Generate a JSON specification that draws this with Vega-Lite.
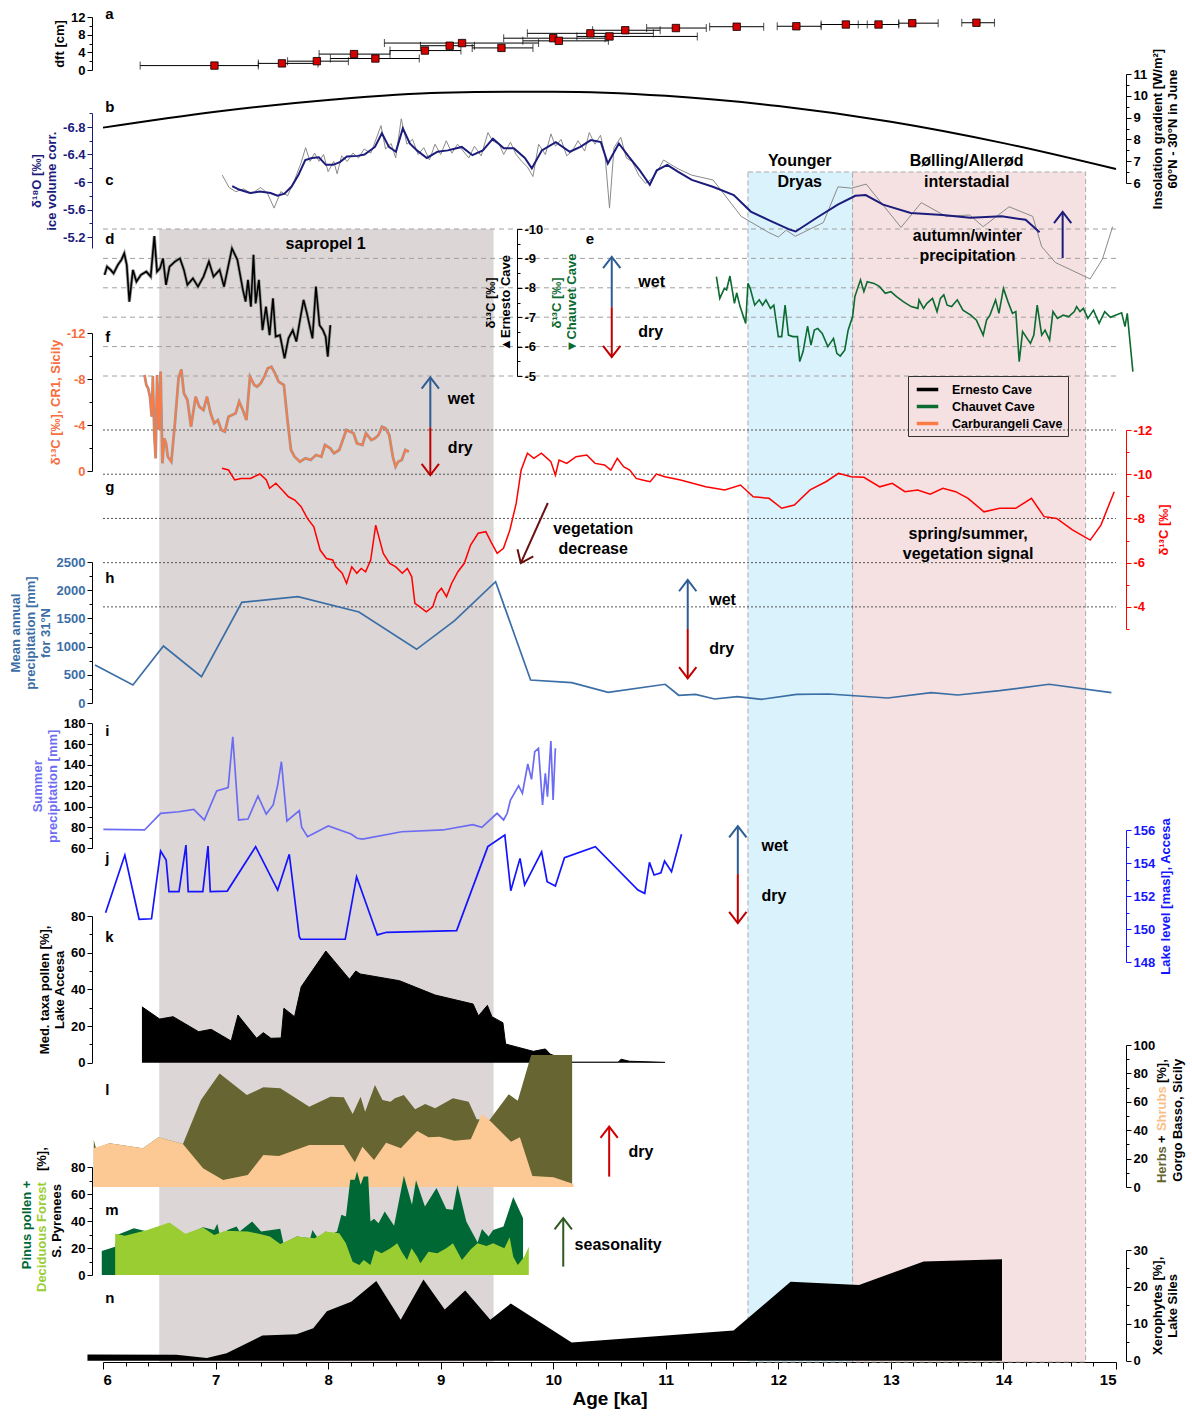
{
  "$schema": "https://vega.github.io/schema/vega-lite/v6.json",
  "width": 1013,
  "height": 1362,
  "autosize": {"type": "none"},
  "padding": {"left": 103, "top": 0, "right": 76, "bottom": 56},
  "background": "white",
  "config": {
    "view": {"stroke": null},
    "locale": {"number": {"decimal": ".", "thousands": "", "grouping": [3], "currency": ["", ""], "minus": "-"}},
    "axis": {"labelFont": "Liberation Sans", "labelFontWeight": "bold", "labelFontSize": 13, "labelColor": "#000", "titleFont": "Liberation Sans", "titleFontWeight": "bold", "titleFontSize": 13, "titleColor": "#000", "domainColor": "#000", "tickColor": "#000", "grid": false, "labelPadding": 2, "titlePadding": 4, "format": "~f"},
    "text": {"font": "Liberation Sans", "fontWeight": "bold"}
  },
  "encoding": {
    "x": {"field": "age", "type": "quantitative", "scale": {"domain": [6, 15], "nice": false, "zero": false},
      "axis": {"orient": "bottom", "values": [6,6.2,6.4,6.6,6.8,7,7.2,7.4,7.6,7.8,8,8.2,8.4,8.6,8.8,9,9.2,9.4,9.6,9.8,10,10.2,10.4,10.6,10.8,11,11.2,11.4,11.6,11.8,12,12.2,12.4,12.6,12.8,13,13.2,13.4,13.6,13.8,14,14.2,14.4,14.6,14.8,15],
        "labelExpr": "datum.value % 1 === 0 ? datum.label : ''",
        "tickSize": {"condition": {"test": "datum.value % 1 === 0", "value": 7}, "value": 4},
        "labelFontSize": 15, "labelPadding": 3, "title": "Age [ka]", "titleFontSize": 19, "titlePadding": 2}}
  },
  "resolve": {"scale": {"y": "independent"}, "axis": {"y": "independent"}},
  "layer": [
    {
      "data": {"values": [
        {"name": "sapropel 1", "age": 6.5, "age2": 9.47, "top": -10},
        {"name": "Younger Dryas", "age": 11.73, "age2": 12.66, "top": -11.94},
        {"name": "Bølling/Allerød", "age": 12.66, "age2": 14.73, "top": -11.94}
      ]},
      "mark": {"type": "rect", "stroke": "#aaaaaa", "strokeDash": [5, 3], "strokeWidth": 1},
      "encoding": {
        "x2": {"field": "age2"},
        "y": {"field": "top", "type": "quantitative", "scale": {"domain": [-10, -5], "range": [229, 376], "nice": false, "zero": false}, "axis": null},
        "y2": {"value": "height"},
        "fill": {"field": "name", "type": "nominal", "scale": {"domain": ["sapropel 1", "Younger Dryas", "Bølling/Allerød"], "range": ["#ddd6d6", "#daf2fb", "#f5e1e1"]}, "legend": null},
        "strokeOpacity": {"condition": {"test": "datum.name === 'sapropel 1'", "value": 0}, "value": 1}
      }
    },
    {
      "data": {"values": [
        {"age": 6, "age2": 15, "v": -10}, {"age": 6, "age2": 15, "v": -9}, {"age": 6, "age2": 15, "v": -8},
        {"age": 6, "age2": 15, "v": -7}, {"age": 6, "age2": 15, "v": -6}, {"age": 6, "age2": 15, "v": -5}
      ]},
      "mark": {"type": "rule", "color": "#a0a0a0", "strokeDash": [5, 4], "strokeWidth": 1},
      "encoding": {
        "x2": {"field": "age2"},
        "y": {"field": "v", "type": "quantitative", "scale": {"domain": [-10, -5], "range": [229, 376], "nice": false, "zero": false}, "axis": null}
      }
    },
    {
      "data": {"values": [
        {"age": 6, "age2": 15, "v": -12}, {"age": 6, "age2": 15, "v": -10}, {"age": 6, "age2": 15, "v": -8},
        {"age": 6, "age2": 15, "v": -6}, {"age": 6, "age2": 15, "v": -4}
      ]},
      "mark": {"type": "rule", "color": "#555555", "strokeDash": [2, 2], "strokeWidth": 1},
      "encoding": {
        "x2": {"field": "age2"},
        "y": {"field": "v", "type": "quantitative", "scale": {"domain": [-12, -3], "range": [430, 629], "nice": false, "zero": false}, "axis": null}
      }
    },
    {
      "encoding": {"y": {"field": "v", "type": "quantitative", "scale": {"domain": [0, 12], "range": [70, 17], "nice": false, "zero": false},
        "axis": {"orient": "left", "offset": 11, "values": [0, 2, 4, 6, 8, 10, 12], "labelExpr": "datum.value % 4 === 0 ? datum.label : ''", "tickSize": {"condition": {"test": "datum.value % 4 === 0", "value": 5}, "value": 3}, "title": "dft [cm]"}}},
      "layer": [
        {"data": {"name": "dft_range", "values": [
          {"age": 6.33, "age2": 7.38, "v": 1.0}, {"age": 7.38, "age2": 7.91, "v": 1.5}, {"age": 7.64, "age2": 8.18, "v": 2.0},
          {"age": 7.92, "age2": 8.55, "v": 3.6}, {"age": 8.02, "age2": 8.81, "v": 2.6}, {"age": 8.55, "age2": 9.18, "v": 4.4},
          {"age": 8.82, "age2": 9.30, "v": 5.5}, {"age": 8.50, "age2": 9.87, "v": 6.1}, {"age": 9.28, "age2": 9.82, "v": 5.0},
          {"age": 9.56, "age2": 10.46, "v": 7.2}, {"age": 9.73, "age2": 10.49, "v": 6.6}, {"age": 9.77, "age2": 10.89, "v": 8.3},
          {"age": 10.21, "age2": 11.28, "v": 7.6}, {"age": 10.35, "age2": 10.95, "v": 9.0}, {"age": 10.83, "age2": 11.36, "v": 9.5},
          {"age": 11.39, "age2": 11.87, "v": 9.8}, {"age": 11.99, "age2": 12.38, "v": 9.9}, {"age": 12.38, "age2": 12.79, "v": 10.3},
          {"age": 12.71, "age2": 13.07, "v": 10.3}, {"age": 13.07, "age2": 13.42, "v": 10.6}, {"age": 13.63, "age2": 13.92, "v": 10.7}
        ]}, "mark": {"type": "rule", "color": "#000", "strokeWidth": 1}, "encoding": {"x2": {"field": "age2"}}},
        {"data": {"name": "dft_range"}, "transform": [{"fold": ["age", "age2"], "as": ["end", "age"]}],
          "mark": {"type": "tick", "orient": "vertical", "color": "#000", "thickness": 1, "size": 8}, "encoding": {}},
        {"data": {"values": [
          {"age": 6.99, "v": 1.0}, {"age": 7.59, "v": 1.5}, {"age": 7.90, "v": 2.0}, {"age": 8.23, "v": 3.6}, {"age": 8.42, "v": 2.6},
          {"age": 8.86, "v": 4.4}, {"age": 9.08, "v": 5.5}, {"age": 9.19, "v": 6.1}, {"age": 9.54, "v": 5.0}, {"age": 10.00, "v": 7.2},
          {"age": 10.05, "v": 6.6}, {"age": 10.33, "v": 8.3}, {"age": 10.50, "v": 7.6}, {"age": 10.64, "v": 9.0}, {"age": 11.09, "v": 9.5},
          {"age": 11.63, "v": 9.8}, {"age": 12.16, "v": 9.9}, {"age": 12.60, "v": 10.3}, {"age": 12.89, "v": 10.3}, {"age": 13.19, "v": 10.6},
          {"age": 13.76, "v": 10.7}
        ]}, "mark": {"type": "point", "shape": "square", "size": 55, "filled": true, "color": "#d40000", "stroke": "#000", "strokeWidth": 0.8, "opacity": 1}, "encoding": {}},
        {"data": {"values": [{"age": 6.02, "v": 12.67, "label": "a"}]},
          "mark": {"type": "text", "align": "left", "baseline": "middle", "fontSize": 15, "color": "#000"},
          "encoding": {"text": {"field": "label"}}}
      ]
    },
    {
      "encoding": {"y": {"field": "v", "type": "quantitative", "scale": {"domain": [6, 11], "range": [183, 74], "nice": false, "zero": false},
        "axis": {"orient": "right", "offset": 10, "values": [6, 6.5, 7, 7.5, 8, 8.5, 9, 9.5, 10, 10.5, 11], "labelExpr": "datum.value % 1 === 0 ? datum.label : ''", "tickSize": {"condition": {"test": "datum.value % 1 === 0", "value": 5}, "value": 3}, "title": ["Insolation gradient [W/m²]", "60°N - 30°N in June"], "titleAngle": 270, "titleBaseline": "middle", "titleX": 31}}},
      "layer": [
        {"data": {"values": [
          {"age": 6, "v": 8.54}, {"age": 7, "v": 9.27}, {"age": 8, "v": 9.81}, {"age": 9, "v": 10.14}, {"age": 10, "v": 10.19},
          {"age": 11, "v": 10.0}, {"age": 12, "v": 9.53}, {"age": 13, "v": 8.81}, {"age": 14, "v": 7.83}, {"age": 15, "v": 6.64}
        ]}, "mark": {"type": "line", "color": "#000", "strokeWidth": 2, "interpolate": "monotone"}, "encoding": {}},
        {"data": {"values": [{"age": 6.02, "v": 9.49, "label": "b"}]},
          "mark": {"type": "text", "align": "left", "baseline": "middle", "fontSize": 15, "color": "#000"},
          "encoding": {"text": {"field": "label"}}}
      ]
    },
    {
      "encoding": {"y": {"field": "v", "type": "quantitative", "scale": {"domain": [-7, -5.04], "range": [113.25, 248], "nice": false, "zero": false},
        "axis": {"orient": "left", "offset": 11, "values": [-7, -6.8, -6.6, -6.4, -6.2, -6, -5.8, -5.6, -5.4, -5.2], "labelExpr": "abs(round(datum.value * 10)) % 4 === 0 ? datum.label : ''", "tickSize": {"condition": {"test": "abs(round(datum.value * 10)) % 4 === 0", "value": 5}, "value": 3}, "title": ["δ¹⁸O [‰]", "ice volume corr."], "labelColor": "#1c1c7c", "titleColor": "#1c1c7c", "domainColor": "#1c1c7c", "tickColor": "#1c1c7c"}}},
      "layer": [
        {"data": {"values": [
          {"age": 7.06, "v": -6.10}, {"age": 7.12, "v": -5.92}, {"age": 7.18, "v": -5.86}, {"age": 7.25, "v": -5.90}, {"age": 7.32, "v": -5.83},
          {"age": 7.40, "v": -5.92}, {"age": 7.46, "v": -5.84}, {"age": 7.52, "v": -5.62}, {"age": 7.58, "v": -5.86}, {"age": 7.64, "v": -5.80},
          {"age": 7.70, "v": -6.02}, {"age": 7.76, "v": -6.28}, {"age": 7.80, "v": -6.50}, {"age": 7.84, "v": -6.30}, {"age": 7.88, "v": -6.42},
          {"age": 7.92, "v": -6.30}, {"age": 7.96, "v": -6.40}, {"age": 8.00, "v": -6.15}, {"age": 8.05, "v": -6.30}, {"age": 8.08, "v": -6.12},
          {"age": 8.12, "v": -6.38}, {"age": 8.17, "v": -6.30}, {"age": 8.22, "v": -6.42}, {"age": 8.27, "v": -6.35}, {"age": 8.32, "v": -6.48},
          {"age": 8.38, "v": -6.42}, {"age": 8.43, "v": -6.64}, {"age": 8.47, "v": -6.82}, {"age": 8.51, "v": -6.48}, {"age": 8.56, "v": -6.56},
          {"age": 8.60, "v": -6.35}, {"age": 8.65, "v": -6.92}, {"age": 8.70, "v": -6.55}, {"age": 8.75, "v": -6.62}, {"age": 8.80, "v": -6.40},
          {"age": 8.85, "v": -6.50}, {"age": 8.90, "v": -6.32}, {"age": 8.95, "v": -6.55}, {"age": 9.00, "v": -6.40}, {"age": 9.05, "v": -6.60},
          {"age": 9.10, "v": -6.42}, {"age": 9.15, "v": -6.55}, {"age": 9.20, "v": -6.45}, {"age": 9.25, "v": -6.35}, {"age": 9.30, "v": -6.52},
          {"age": 9.36, "v": -6.38}, {"age": 9.42, "v": -6.72}, {"age": 9.46, "v": -6.60}, {"age": 9.52, "v": -6.55}, {"age": 9.56, "v": -6.40},
          {"age": 9.62, "v": -6.58}, {"age": 9.67, "v": -6.40}, {"age": 9.72, "v": -6.30}, {"age": 9.77, "v": -6.22}, {"age": 9.82, "v": -6.08},
          {"age": 9.87, "v": -6.55}, {"age": 9.93, "v": -6.40}, {"age": 9.98, "v": -6.70}, {"age": 10.02, "v": -6.52}, {"age": 10.07, "v": -6.62},
          {"age": 10.12, "v": -6.38}, {"age": 10.17, "v": -6.45}, {"age": 10.22, "v": -6.60}, {"age": 10.28, "v": -6.45}, {"age": 10.32, "v": -6.72},
          {"age": 10.37, "v": -6.55}, {"age": 10.42, "v": -6.68}, {"age": 10.46, "v": -6.40}, {"age": 10.50, "v": -5.62}, {"age": 10.54, "v": -6.50},
          {"age": 10.60, "v": -6.65}, {"age": 10.65, "v": -6.35}, {"age": 10.70, "v": -6.30}, {"age": 10.76, "v": -6.10}, {"age": 10.82, "v": -5.98},
          {"age": 10.88, "v": -6.05}, {"age": 10.94, "v": -6.20}, {"age": 10.98, "v": -6.32}, {"age": 11.10, "v": -6.20}, {"age": 11.23, "v": -6.10},
          {"age": 11.42, "v": -6.03}, {"age": 11.67, "v": -5.50}, {"age": 11.91, "v": -5.27}, {"age": 12.00, "v": -5.20}, {"age": 12.07, "v": -5.30},
          {"age": 12.15, "v": -5.21}, {"age": 12.40, "v": -5.41}, {"age": 12.53, "v": -5.93}, {"age": 12.65, "v": -5.91}, {"age": 12.78, "v": -5.97},
          {"age": 13.09, "v": -5.34}, {"age": 13.27, "v": -5.70}, {"age": 13.49, "v": -5.50}, {"age": 13.70, "v": -5.52}, {"age": 13.82, "v": -5.35},
          {"age": 14.05, "v": -5.64}, {"age": 14.26, "v": -5.50}, {"age": 14.34, "v": -5.06}, {"age": 14.46, "v": -4.83}, {"age": 14.77, "v": -4.59},
          {"age": 14.88, "v": -4.88}, {"age": 14.97, "v": -5.35}
        ]}, "mark": {"type": "line", "color": "#8a8a8a", "strokeWidth": 1}, "encoding": {}},
        {"data": {"values": [
          {"age": 7.148, "v": -5.94}, {"age": 7.208, "v": -5.89}, {"age": 7.306, "v": -5.84}, {"age": 7.394, "v": -5.86}, {"age": 7.488, "v": -5.84},
          {"age": 7.551, "v": -5.80}, {"age": 7.612, "v": -5.83}, {"age": 7.674, "v": -5.93}, {"age": 7.736, "v": -6.10}, {"age": 7.797, "v": -6.32},
          {"age": 7.856, "v": -6.35}, {"age": 7.918, "v": -6.36}, {"age": 7.980, "v": -6.25}, {"age": 8.043, "v": -6.25}, {"age": 8.105, "v": -6.29},
          {"age": 8.167, "v": -6.37}, {"age": 8.262, "v": -6.38}, {"age": 8.323, "v": -6.40}, {"age": 8.416, "v": -6.51}, {"age": 8.478, "v": -6.71},
          {"age": 8.540, "v": -6.51}, {"age": 8.602, "v": -6.44}, {"age": 8.664, "v": -6.78}, {"age": 8.726, "v": -6.56}, {"age": 8.789, "v": -6.46},
          {"age": 8.877, "v": -6.35}, {"age": 8.972, "v": -6.44}, {"age": 9.064, "v": -6.46}, {"age": 9.188, "v": -6.51}, {"age": 9.282, "v": -6.39},
          {"age": 9.375, "v": -6.46}, {"age": 9.464, "v": -6.63}, {"age": 9.561, "v": -6.49}, {"age": 9.650, "v": -6.49}, {"age": 9.748, "v": -6.35},
          {"age": 9.810, "v": -6.20}, {"age": 9.899, "v": -6.46}, {"age": 10.023, "v": -6.58}, {"age": 10.147, "v": -6.44}, {"age": 10.241, "v": -6.51},
          {"age": 10.334, "v": -6.61}, {"age": 10.423, "v": -6.58}, {"age": 10.485, "v": -6.27}, {"age": 10.583, "v": -6.56}, {"age": 10.671, "v": -6.37},
          {"age": 10.769, "v": -6.17}, {"age": 10.858, "v": -5.96}, {"age": 10.920, "v": -6.17}, {"age": 11.013, "v": -6.25}, {"age": 11.107, "v": -6.15},
          {"age": 11.231, "v": -6.03}, {"age": 11.418, "v": -5.93}, {"age": 11.604, "v": -5.81}, {"age": 11.755, "v": -5.57}, {"age": 11.910, "v": -5.45},
          {"age": 12.096, "v": -5.31}, {"age": 12.154, "v": -5.28}, {"age": 12.341, "v": -5.48}, {"age": 12.528, "v": -5.67}, {"age": 12.684, "v": -5.80},
          {"age": 12.776, "v": -5.81}, {"age": 12.931, "v": -5.67}, {"age": 13.176, "v": -5.55}, {"age": 13.460, "v": -5.52}, {"age": 13.704, "v": -5.48},
          {"age": 13.984, "v": -5.50}, {"age": 14.197, "v": -5.45}, {"age": 14.321, "v": -5.27}
        ]}, "mark": {"type": "line", "color": "#1c1c7c", "strokeWidth": 2}, "encoding": {}},
        {"data": {"values": [{"age": 6.02, "v": -6.03, "label": "c"}]},
          "mark": {"type": "text", "align": "left", "baseline": "middle", "fontSize": 15, "color": "#000"},
          "encoding": {"text": {"field": "label"}}},
        {"data": {"values": [
          {"age": 12.19, "v": -6.305, "label": "Younger"}, {"age": 12.19, "v": -6.004, "label": "Dryas"},
          {"age": 13.673, "v": -6.305, "label": "Bølling/Allerød"}, {"age": 13.673, "v": -6.004, "label": "interstadial"}
        ]}, "mark": {"type": "text", "align": "center", "baseline": "middle", "fontSize": 16, "color": "#000"},
          "encoding": {"text": {"field": "label"}}}
      ]
    },
    {
      "encoding": {"y": {"field": "v", "type": "quantitative", "scale": {"domain": [-10, -5], "range": [229, 376], "nice": false, "zero": false},
        "axis": {"orient": "right", "offset": -599, "zindex": 1, "labels": false, "ticks": false, "domain": false, "title": ["δ¹³C [‰]", "▲Ernesto Cave"], "titleAngle": 270, "titleBaseline": "middle", "titleX": -27, "titleColor": "#000"}}},
      "layer": [
        {"data": {"name": "ernesto", "values": [
          {"age": 6.014, "v": -8.44}, {"age": 6.036, "v": -8.72}, {"age": 6.068, "v": -8.61}, {"age": 6.094, "v": -8.49}, {"age": 6.132, "v": -8.78},
          {"age": 6.163, "v": -8.95}, {"age": 6.189, "v": -9.17}, {"age": 6.211, "v": -8.78}, {"age": 6.234, "v": -7.53}, {"age": 6.266, "v": -8.61},
          {"age": 6.297, "v": -8.21}, {"age": 6.337, "v": -8.44}, {"age": 6.385, "v": -8.55}, {"age": 6.424, "v": -8.38}, {"age": 6.456, "v": -9.76},
          {"age": 6.480, "v": -8.55}, {"age": 6.506, "v": -8.66}, {"age": 6.533, "v": -9.00}, {"age": 6.560, "v": -8.10}, {"age": 6.591, "v": -8.72},
          {"age": 6.639, "v": -8.89}, {"age": 6.684, "v": -9.00}, {"age": 6.719, "v": -8.61}, {"age": 6.750, "v": -8.10}, {"age": 6.799, "v": -8.32},
          {"age": 6.844, "v": -8.04}, {"age": 6.893, "v": -8.38}, {"age": 6.941, "v": -8.89}, {"age": 6.982, "v": -8.38}, {"age": 7.036, "v": -8.61},
          {"age": 7.075, "v": -8.04}, {"age": 7.146, "v": -9.34}, {"age": 7.194, "v": -8.95}, {"age": 7.243, "v": -7.93}, {"age": 7.267, "v": -7.53},
          {"age": 7.288, "v": -8.27}, {"age": 7.314, "v": -7.36}, {"age": 7.337, "v": -9.12}, {"age": 7.356, "v": -7.47}, {"age": 7.385, "v": -8.27},
          {"age": 7.417, "v": -6.56}, {"age": 7.448, "v": -7.36}, {"age": 7.480, "v": -6.39}, {"age": 7.510, "v": -7.64}, {"age": 7.534, "v": -6.34},
          {"age": 7.572, "v": -6.39}, {"age": 7.613, "v": -5.60}, {"age": 7.648, "v": -6.28}, {"age": 7.686, "v": -6.56}, {"age": 7.718, "v": -6.17},
          {"age": 7.750, "v": -6.90}, {"age": 7.782, "v": -7.59}, {"age": 7.812, "v": -7.13}, {"age": 7.861, "v": -6.28}, {"age": 7.892, "v": -8.04},
          {"age": 7.924, "v": -6.73}, {"age": 7.954, "v": -6.56}, {"age": 7.978, "v": -6.34}, {"age": 7.997, "v": -5.66}, {"age": 8.020, "v": -6.73}
        ]}, "mark": {"type": "line", "color": "#9a9a9a", "strokeWidth": 3.2}, "encoding": {}},
        {"data": {"name": "ernesto"}, "mark": {"type": "line", "strokeWidth": 1.6},
          "encoding": {"color": {"datum": "Ernesto Cave", "type": "nominal",
            "scale": {"domain": ["Ernesto Cave", "Chauvet Cave", "Carburangeli Cave"], "range": ["#000000", "#0b6b30", "#fb7a46"]},
            "legend": {"orient": "none", "legendX": 805, "legendY": 376, "title": null, "strokeColor": "#333", "padding": 5, "symbolType": "M-1.7,0L1.7,0", "symbolSize": 160, "symbolStrokeWidth": 3.5, "labelFont": "Liberation Sans", "labelFontSize": 12.5, "labelFontWeight": "bold", "rowPadding": 1, "symbolOffset": 6, "labelOffset": 16}}}},
        {"data": {"values": [{"age": 6.02, "v": -9.66, "label": "d"}, {"age": 10.29, "v": -9.66, "label": "e"}]},
          "mark": {"type": "text", "align": "left", "baseline": "middle", "fontSize": 15, "color": "#000"},
          "encoding": {"text": {"field": "label"}}},
        {"data": {"values": [
          {"age": 7.978, "v": -9.48, "label": "sapropel 1"},
          {"age": 13.68, "v": -9.77, "label": "autumn/winter"}, {"age": 13.68, "v": -9.08, "label": "precipitation"}
        ]}, "mark": {"type": "text", "align": "center", "baseline": "middle", "fontSize": 16, "color": "#000"},
          "encoding": {"text": {"field": "label"}}},
        {"data": {"values": [{"age": 10.52, "v": -7.34, "v2": -9.05}]}, "mark": {"type": "rule", "color": "#2d5d94", "strokeWidth": 2}, "encoding": {"y2": {"field": "v2"}}},
        {"data": {"values": [{"age": 10.52, "v": -7.34, "v2": -5.64}]}, "mark": {"type": "rule", "color": "#c00000", "strokeWidth": 2}, "encoding": {"y2": {"field": "v2"}}},
        {"data": {"values": [{"age": 10.52, "v": -9.05}]}, "mark": {"type": "point", "shape": "M-1,1.3L0,0L1,1.3", "size": 300, "filled": false, "color": "#2d5d94", "strokeWidth": 2, "opacity": 1}, "encoding": {}},
        {"data": {"values": [{"age": 10.52, "v": -5.64}]}, "mark": {"type": "point", "shape": "M-1,-1.3L0,0L1,-1.3", "size": 300, "filled": false, "color": "#c00000", "strokeWidth": 2, "opacity": 1}, "encoding": {}},
        {"data": {"values": [{"age": 10.756, "v": -8.20, "label": "wet"}, {"age": 10.756, "v": -6.51, "label": "dry"}]},
          "mark": {"type": "text", "align": "left", "baseline": "middle", "fontSize": 16, "color": "#000"},
          "encoding": {"text": {"field": "label"}}},
        {"data": {"values": [{"age": 14.526, "v": -9.01, "v2": -10.58}]}, "mark": {"type": "rule", "color": "#1c1c7c", "strokeWidth": 2}, "encoding": {"y2": {"field": "v2"}}},
        {"data": {"values": [{"age": 14.526, "v": -10.58}]}, "mark": {"type": "point", "shape": "M-1,1.3L0,0L1,1.3", "size": 300, "filled": false, "color": "#1c1c7c", "strokeWidth": 2, "opacity": 1}, "encoding": {}}
      ]
    },
    {
      "encoding": {"y": {"field": "v", "type": "quantitative", "scale": {"domain": [-10, -5], "range": [229, 376], "nice": false, "zero": false},
        "axis": {"orient": "right", "offset": -599, "zindex": 1, "values": [-10, -9.5, -9, -8.5, -8, -7.5, -7, -6.5, -6, -5.5, -5], "labelExpr": "datum.value % 1 === 0 ? datum.label : ''", "tickSize": {"condition": {"test": "datum.value % 1 === 0", "value": 5}, "value": 3}, "title": ["δ¹³C [‰]", "▼Chauvet Cave"], "titleAngle": 270, "titleBaseline": "middle", "titleX": 39, "titleColor": "#0b6b30"}}},
      "layer": [
        {"data": {"values": [
          {"age": 11.45, "v": -8.38}, {"age": 11.48, "v": -7.64}, {"age": 11.52, "v": -7.98}, {"age": 11.54, "v": -7.93}, {"age": 11.57, "v": -8.40},
          {"age": 11.61, "v": -7.47}, {"age": 11.63, "v": -7.83}, {"age": 11.66, "v": -7.36}, {"age": 11.71, "v": -6.79}, {"age": 11.73, "v": -8.15},
          {"age": 11.75, "v": -7.98}, {"age": 11.79, "v": -7.41}, {"age": 11.83, "v": -7.59}, {"age": 11.86, "v": -7.41}, {"age": 11.89, "v": -7.59},
          {"age": 11.93, "v": -7.30}, {"age": 11.96, "v": -7.41}, {"age": 12.00, "v": -6.34}, {"age": 12.03, "v": -6.34}, {"age": 12.06, "v": -7.41},
          {"age": 12.09, "v": -6.39}, {"age": 12.13, "v": -6.34}, {"age": 12.17, "v": -6.34}, {"age": 12.19, "v": -5.49}, {"age": 12.22, "v": -5.83},
          {"age": 12.26, "v": -6.70}, {"age": 12.29, "v": -6.05}, {"age": 12.32, "v": -6.56}, {"age": 12.35, "v": -6.62}, {"age": 12.39, "v": -6.45},
          {"age": 12.44, "v": -6.00}, {"age": 12.49, "v": -6.28}, {"age": 12.52, "v": -5.77}, {"age": 12.55, "v": -5.68}, {"age": 12.59, "v": -5.88},
          {"age": 12.62, "v": -6.56}, {"age": 12.66, "v": -7.02}, {"age": 12.68, "v": -7.70}, {"age": 12.73, "v": -8.27}, {"age": 12.76, "v": -7.87},
          {"age": 12.79, "v": -8.21}, {"age": 12.85, "v": -8.15}, {"age": 12.90, "v": -8.04}, {"age": 12.95, "v": -7.81}, {"age": 13.00, "v": -7.87},
          {"age": 13.05, "v": -7.70}, {"age": 13.11, "v": -7.53}, {"age": 13.18, "v": -7.36}, {"age": 13.24, "v": -7.30}, {"age": 13.25, "v": -7.59},
          {"age": 13.29, "v": -7.30}, {"age": 13.32, "v": -7.47}, {"age": 13.37, "v": -7.64}, {"age": 13.41, "v": -7.19}, {"age": 13.44, "v": -7.64},
          {"age": 13.47, "v": -7.76}, {"age": 13.50, "v": -7.41}, {"age": 13.54, "v": -7.36}, {"age": 13.59, "v": -7.59}, {"age": 13.64, "v": -7.24},
          {"age": 13.71, "v": -7.07}, {"age": 13.76, "v": -6.90}, {"age": 13.82, "v": -6.39}, {"age": 13.85, "v": -6.90}, {"age": 13.88, "v": -7.07},
          {"age": 13.93, "v": -7.59}, {"age": 13.96, "v": -7.13}, {"age": 14.00, "v": -7.98}, {"age": 14.04, "v": -7.53}, {"age": 14.08, "v": -7.13},
          {"age": 14.11, "v": -7.19}, {"age": 14.14, "v": -5.49}, {"age": 14.17, "v": -6.51}, {"age": 14.21, "v": -6.28}, {"age": 14.24, "v": -6.11},
          {"age": 14.27, "v": -6.39}, {"age": 14.30, "v": -7.41}, {"age": 14.34, "v": -6.39}, {"age": 14.37, "v": -6.56}, {"age": 14.41, "v": -6.22},
          {"age": 14.44, "v": -7.19}, {"age": 14.48, "v": -6.96}, {"age": 14.53, "v": -7.07}, {"age": 14.58, "v": -7.02}, {"age": 14.63, "v": -7.19},
          {"age": 14.65, "v": -7.36}, {"age": 14.68, "v": -7.19}, {"age": 14.71, "v": -7.30}, {"age": 14.75, "v": -6.96}, {"age": 14.80, "v": -7.24},
          {"age": 14.85, "v": -6.79}, {"age": 14.90, "v": -7.19}, {"age": 14.95, "v": -7.00}, {"age": 15.05, "v": -7.15}, {"age": 15.08, "v": -6.68},
          {"age": 15.10, "v": -7.13}, {"age": 15.15, "v": -5.15}
        ]}, "mark": {"type": "line", "strokeWidth": 1.6},
          "encoding": {"color": {"datum": "Chauvet Cave", "type": "nominal",
            "scale": {"domain": ["Ernesto Cave", "Chauvet Cave", "Carburangeli Cave"], "range": ["#000000", "#0b6b30", "#fb7a46"]},
            "legend": {"orient": "none", "legendX": 805, "legendY": 376, "title": null, "strokeColor": "#333", "padding": 5, "symbolType": "M-1.7,0L1.7,0", "symbolSize": 160, "symbolStrokeWidth": 3.5, "labelFont": "Liberation Sans", "labelFontSize": 12.5, "labelFontWeight": "bold", "rowPadding": 1, "symbolOffset": 6, "labelOffset": 16}}}}
      ]
    },
    {
      "encoding": {"y": {"field": "v", "type": "quantitative", "scale": {"domain": [-12, 0], "range": [333, 471], "nice": false, "zero": false},
        "axis": {"orient": "left", "offset": 11, "values": [-12, -10, -8, -6, -4, -2, 0], "labelExpr": "datum.value % 4 === 0 ? datum.label : ''", "tickSize": {"condition": {"test": "datum.value % 4 === 0", "value": 5}, "value": 3}, "title": "δ¹³C [‰], CR1, Sicily", "labelColor": "#f76d3c", "titleColor": "#f76d3c"}}},
      "layer": [
        {"data": {"name": "cr1", "values": [
          {"age": 6.369, "v": -8.35}, {"age": 6.385, "v": -7.48}, {"age": 6.401, "v": -7.19}, {"age": 6.417, "v": -6.46}, {"age": 6.433, "v": -4.72},
          {"age": 6.443, "v": -8.26}, {"age": 6.456, "v": -3.13}, {"age": 6.468, "v": -1.10}, {"age": 6.480, "v": -8.35}, {"age": 6.497, "v": -3.57},
          {"age": 6.512, "v": -8.64}, {"age": 6.528, "v": -0.67}, {"age": 6.544, "v": -2.84}, {"age": 6.560, "v": -2.41}, {"age": 6.576, "v": -1.24},
          {"age": 6.607, "v": -0.81}, {"age": 6.639, "v": -4.15}, {"age": 6.671, "v": -8.06}, {"age": 6.696, "v": -8.84}, {"age": 6.719, "v": -6.76},
          {"age": 6.750, "v": -6.17}, {"age": 6.782, "v": -3.85}, {"age": 6.823, "v": -6.46}, {"age": 6.855, "v": -5.59}, {"age": 6.893, "v": -5.30},
          {"age": 6.924, "v": -6.46}, {"age": 6.956, "v": -5.02}, {"age": 6.988, "v": -4.15}, {"age": 7.020, "v": -4.43}, {"age": 7.052, "v": -3.57},
          {"age": 7.083, "v": -3.42}, {"age": 7.115, "v": -4.72}, {"age": 7.179, "v": -5.02}, {"age": 7.210, "v": -6.03}, {"age": 7.242, "v": -5.30},
          {"age": 7.274, "v": -4.43}, {"age": 7.306, "v": -8.20}, {"age": 7.344, "v": -7.48}, {"age": 7.368, "v": -7.33}, {"age": 7.401, "v": -7.63},
          {"age": 7.433, "v": -8.20}, {"age": 7.464, "v": -8.93}, {"age": 7.496, "v": -9.07}, {"age": 7.528, "v": -8.50}, {"age": 7.560, "v": -7.77},
          {"age": 7.607, "v": -7.48}, {"age": 7.639, "v": -4.43}, {"age": 7.670, "v": -1.83}, {"age": 7.702, "v": -1.24}, {"age": 7.750, "v": -0.81},
          {"age": 7.798, "v": -1.10}, {"age": 7.845, "v": -0.96}, {"age": 7.892, "v": -1.39}, {"age": 7.940, "v": -1.24}, {"age": 7.972, "v": -2.26},
          {"age": 8.020, "v": -1.97}, {"age": 8.052, "v": -1.54}, {"age": 8.099, "v": -1.83}, {"age": 8.162, "v": -3.57}, {"age": 8.226, "v": -3.28},
          {"age": 8.256, "v": -2.41}, {"age": 8.305, "v": -2.26}, {"age": 8.336, "v": -3.28}, {"age": 8.384, "v": -2.70}, {"age": 8.416, "v": -2.84},
          {"age": 8.448, "v": -3.13}, {"age": 8.478, "v": -3.85}, {"age": 8.511, "v": -3.71}, {"age": 8.543, "v": -3.13}, {"age": 8.575, "v": -1.24},
          {"age": 8.599, "v": -0.37}, {"age": 8.622, "v": -0.81}, {"age": 8.654, "v": -0.96}, {"age": 8.686, "v": -1.83}, {"age": 8.717, "v": -1.68}
        ]}, "mark": {"type": "line", "color": "#9a9a9a", "strokeWidth": 2.8}, "encoding": {}},
        {"data": {"name": "cr1"}, "mark": {"type": "line", "strokeWidth": 1.6},
          "encoding": {"color": {"datum": "Carburangeli Cave", "type": "nominal",
            "scale": {"domain": ["Ernesto Cave", "Chauvet Cave", "Carburangeli Cave"], "range": ["#000000", "#0b6b30", "#fb7a46"]},
            "legend": {"orient": "none", "legendX": 805, "legendY": 376, "title": null, "strokeColor": "#333", "padding": 5, "symbolType": "M-1.7,0L1.7,0", "symbolSize": 160, "symbolStrokeWidth": 3.5, "labelFont": "Liberation Sans", "labelFontSize": 12.5, "labelFontWeight": "bold", "rowPadding": 1, "symbolOffset": 6, "labelOffset": 16}}}},
        {"data": {"values": [{"age": 6.02, "v": -11.65, "label": "f"}]},
          "mark": {"type": "text", "align": "left", "baseline": "middle", "fontSize": 15, "color": "#000"},
          "encoding": {"text": {"field": "label"}}},
        {"data": {"values": [{"age": 8.908, "v": -3.80, "v2": -8.15}]}, "mark": {"type": "rule", "color": "#2d5d94", "strokeWidth": 2}, "encoding": {"y2": {"field": "v2"}}},
        {"data": {"values": [{"age": 8.908, "v": -3.80, "v2": 0.35}]}, "mark": {"type": "rule", "color": "#c00000", "strokeWidth": 2}, "encoding": {"y2": {"field": "v2"}}},
        {"data": {"values": [{"age": 8.908, "v": -8.15}]}, "mark": {"type": "point", "shape": "M-1,1.3L0,0L1,1.3", "size": 300, "filled": false, "color": "#2d5d94", "strokeWidth": 2, "opacity": 1}, "encoding": {}},
        {"data": {"values": [{"age": 8.908, "v": 0.35}]}, "mark": {"type": "point", "shape": "M-1,-1.3L0,0L1,-1.3", "size": 300, "filled": false, "color": "#c00000", "strokeWidth": 2, "opacity": 1}, "encoding": {}},
        {"data": {"values": [{"age": 9.064, "v": -6.26, "label": "wet"}, {"age": 9.064, "v": -2.03, "label": "dry"}]},
          "mark": {"type": "text", "align": "left", "baseline": "middle", "fontSize": 16, "color": "#000"},
          "encoding": {"text": {"field": "label"}}}
      ]
    },
    {
      "encoding": {"y": {"field": "v", "type": "quantitative", "scale": {"domain": [-12, -3], "range": [430, 629], "nice": false, "zero": false},
        "axis": {"orient": "right", "offset": 10, "values": [-12, -11, -10, -9, -8, -7, -6, -5, -4, -3], "labelExpr": "datum.value % 2 === 0 ? datum.label : ''", "tickSize": {"condition": {"test": "datum.value % 2 === 0", "value": 5}, "value": 3}, "title": "δ¹³C [‰]", "titleAngle": 270, "titleBaseline": "middle", "titleX": 37, "labelColor": "#ff0000", "titleColor": "#ff0000", "domainColor": "#ff0000", "tickColor": "#ff0000"}}},
      "layer": [
        {"data": {"values": [
          {"age": 7.057, "v": -10.27}, {"age": 7.115, "v": -10.19}, {"age": 7.170, "v": -9.74}, {"age": 7.226, "v": -9.81}, {"age": 7.311, "v": -9.81},
          {"age": 7.394, "v": -10.01}, {"age": 7.451, "v": -9.74}, {"age": 7.480, "v": -9.36}, {"age": 7.536, "v": -9.59}, {"age": 7.592, "v": -9.29},
          {"age": 7.648, "v": -8.98}, {"age": 7.704, "v": -8.83}, {"age": 7.760, "v": -8.53}, {"age": 7.816, "v": -8.00}, {"age": 7.873, "v": -7.62},
          {"age": 7.929, "v": -6.57}, {"age": 7.985, "v": -6.19}, {"age": 8.041, "v": -6.12}, {"age": 8.069, "v": -5.81}, {"age": 8.125, "v": -5.52},
          {"age": 8.164, "v": -5.06}, {"age": 8.210, "v": -5.81}, {"age": 8.255, "v": -5.52}, {"age": 8.294, "v": -5.74}, {"age": 8.333, "v": -5.59},
          {"age": 8.378, "v": -6.12}, {"age": 8.423, "v": -7.70}, {"age": 8.490, "v": -6.42}, {"age": 8.547, "v": -5.97}, {"age": 8.602, "v": -5.81},
          {"age": 8.659, "v": -5.52}, {"age": 8.704, "v": -5.74}, {"age": 8.743, "v": -5.36}, {"age": 8.771, "v": -4.16}, {"age": 8.815, "v": -4.00},
          {"age": 8.872, "v": -3.78}, {"age": 8.929, "v": -4.00}, {"age": 8.968, "v": -4.61}, {"age": 9.007, "v": -4.84}, {"age": 9.052, "v": -4.46},
          {"age": 9.097, "v": -5.06}, {"age": 9.153, "v": -5.59}, {"age": 9.210, "v": -5.97}, {"age": 9.266, "v": -6.80}, {"age": 9.333, "v": -7.33},
          {"age": 9.401, "v": -7.40}, {"age": 9.446, "v": -6.95}, {"age": 9.502, "v": -6.42}, {"age": 9.558, "v": -6.65}, {"age": 9.615, "v": -7.48},
          {"age": 9.671, "v": -8.68}, {"age": 9.715, "v": -10.19}, {"age": 9.771, "v": -10.95}, {"age": 9.828, "v": -10.72}, {"age": 9.895, "v": -10.95},
          {"age": 9.979, "v": -10.57}, {"age": 10.019, "v": -9.96}, {"age": 10.052, "v": -10.64}, {"age": 10.120, "v": -10.49}, {"age": 10.203, "v": -10.79},
          {"age": 10.298, "v": -10.87}, {"age": 10.372, "v": -10.49}, {"age": 10.456, "v": -10.42}, {"age": 10.512, "v": -10.19}, {"age": 10.569, "v": -10.72},
          {"age": 10.625, "v": -10.34}, {"age": 10.680, "v": -10.19}, {"age": 10.737, "v": -9.81}, {"age": 10.793, "v": -9.74}, {"age": 10.861, "v": -9.66},
          {"age": 10.917, "v": -10.01}, {"age": 10.991, "v": -9.89}, {"age": 11.131, "v": -9.74}, {"age": 11.355, "v": -9.43}, {"age": 11.524, "v": -9.29},
          {"age": 11.664, "v": -9.51}, {"age": 11.777, "v": -8.98}, {"age": 11.917, "v": -8.91}, {"age": 12.030, "v": -8.46}, {"age": 12.142, "v": -8.61},
          {"age": 12.282, "v": -9.29}, {"age": 12.423, "v": -9.66}, {"age": 12.535, "v": -10.04}, {"age": 12.647, "v": -9.89}, {"age": 12.760, "v": -9.86},
          {"age": 12.901, "v": -9.43}, {"age": 13.012, "v": -9.59}, {"age": 13.125, "v": -9.21}, {"age": 13.238, "v": -9.29}, {"age": 13.349, "v": -9.10},
          {"age": 13.462, "v": -9.36}, {"age": 13.575, "v": -9.21}, {"age": 13.686, "v": -8.91}, {"age": 13.827, "v": -8.30}, {"age": 13.966, "v": -8.46},
          {"age": 14.108, "v": -8.46}, {"age": 14.249, "v": -8.91}, {"age": 14.361, "v": -8.08}, {"age": 14.473, "v": -8.00}, {"age": 14.613, "v": -7.48},
          {"age": 14.771, "v": -7.02}, {"age": 14.866, "v": -7.70}, {"age": 14.984, "v": -9.21}
        ]}, "mark": {"type": "line", "color": "#ff0000", "strokeWidth": 1.5}, "encoding": {}},
        {"data": {"values": [{"age": 6.02, "v": -9.42, "label": "g"}]},
          "mark": {"type": "text", "align": "left", "baseline": "middle", "fontSize": 15, "color": "#000"},
          "encoding": {"text": {"field": "label"}}},
        {"data": {"values": [{"age": 9.952, "v": -8.70, "age2": 9.712, "v2": -5.98}]}, "mark": {"type": "rule", "color": "#6b1010", "strokeWidth": 2},
          "encoding": {"x2": {"field": "age2"}, "y2": {"field": "v2"}}},
        {"data": {"values": [{"age": 9.712, "v": -5.98}]}, "mark": {"type": "point", "shape": "M-1,-1.3L0,0L1,-1.3", "size": 300, "filled": false, "color": "#6b1010", "strokeWidth": 2, "opacity": 1, "angle": 24}, "encoding": {}},
        {"data": {"values": [
          {"age": 10.355, "v": -7.52, "label": "vegetation"}, {"age": 10.355, "v": -6.60, "label": "decrease"},
          {"age": 13.686, "v": -7.29, "label": "spring/summer,"}, {"age": 13.686, "v": -6.38, "label": "vegetation signal"}
        ]}, "mark": {"type": "text", "align": "center", "baseline": "middle", "fontSize": 16, "color": "#000"},
          "encoding": {"text": {"field": "label"}}}
      ]
    },
    {
      "encoding": {"y": {"field": "v", "type": "quantitative", "scale": {"domain": [0, 2500], "range": [703, 562], "nice": false, "zero": false},
        "axis": {"orient": "left", "offset": 11, "values": [0, 250, 500, 750, 1000, 1250, 1500, 1750, 2000, 2250, 2500], "labelExpr": "datum.value % 500 === 0 ? datum.label : ''", "tickSize": {"condition": {"test": "datum.value % 500 === 0", "value": 5}, "value": 3}, "title": ["Mean annual", "precipitation [mm]", "for 31°N"], "labelColor": "#3b6ea5", "titleColor": "#3b6ea5"}}},
      "layer": [
        {"data": {"values": [
          {"age": 5.929, "v": 674}, {"age": 6.266, "v": 319}, {"age": 6.537, "v": 1011}, {"age": 6.875, "v": 466}, {"age": 7.233, "v": 1785},
          {"age": 7.732, "v": 1885}, {"age": 8.274, "v": 1613}, {"age": 8.786, "v": 952}, {"age": 9.124, "v": 1459}, {"age": 9.488, "v": 2151},
          {"age": 9.799, "v": 408}, {"age": 10.164, "v": 360}, {"age": 10.488, "v": 190}, {"age": 10.995, "v": 332}, {"age": 11.115, "v": 137},
          {"age": 11.265, "v": 154}, {"age": 11.433, "v": 71}, {"age": 11.636, "v": 112}, {"age": 11.853, "v": 66}, {"age": 12.163, "v": 154},
          {"age": 12.448, "v": 160}, {"age": 12.973, "v": 89}, {"age": 13.358, "v": 183}, {"age": 13.595, "v": 142}, {"age": 13.966, "v": 218},
          {"age": 14.405, "v": 332}, {"age": 14.959, "v": 183}
        ]}, "mark": {"type": "line", "color": "#3b6ea5", "strokeWidth": 1.7}, "encoding": {}},
        {"data": {"values": [{"age": 6.02, "v": 2216, "label": "h"}]},
          "mark": {"type": "text", "align": "left", "baseline": "middle", "fontSize": 15, "color": "#000"},
          "encoding": {"text": {"field": "label"}}},
        {"data": {"values": [{"age": 11.195, "v": 1312, "v2": 2181}]}, "mark": {"type": "rule", "color": "#2d5d94", "strokeWidth": 2}, "encoding": {"y2": {"field": "v2"}}},
        {"data": {"values": [{"age": 11.195, "v": 1312, "v2": 438}]}, "mark": {"type": "rule", "color": "#c00000", "strokeWidth": 2}, "encoding": {"y2": {"field": "v2"}}},
        {"data": {"values": [{"age": 11.195, "v": 2181}]}, "mark": {"type": "point", "shape": "M-1,1.3L0,0L1,1.3", "size": 300, "filled": false, "color": "#2d5d94", "strokeWidth": 2, "opacity": 1}, "encoding": {}},
        {"data": {"values": [{"age": 11.195, "v": 438}]}, "mark": {"type": "point", "shape": "M-1,-1.3L0,0L1,-1.3", "size": 300, "filled": false, "color": "#c00000", "strokeWidth": 2, "opacity": 1}, "encoding": {}},
        {"data": {"values": [{"age": 11.386, "v": 1826, "label": "wet"}, {"age": 11.386, "v": 957, "label": "dry"}]},
          "mark": {"type": "text", "align": "left", "baseline": "middle", "fontSize": 16, "color": "#000"},
          "encoding": {"text": {"field": "label"}}}
      ]
    },
    {
      "encoding": {"y": {"field": "v", "type": "quantitative", "scale": {"domain": [60, 180], "range": [848.3, 723.3], "nice": false, "zero": false},
        "axis": {"orient": "left", "offset": 11, "values": [60, 70, 80, 90, 100, 110, 120, 130, 140, 150, 160, 170, 180], "labelExpr": "datum.value % 20 === 0 ? datum.label : ''", "tickSize": {"condition": {"test": "datum.value % 20 === 0", "value": 5}, "value": 3}, "title": ["Summer", "precipitation [mm]"], "titleColor": "#6c6cf2"}}},
      "layer": [
        {"data": {"values": [
          {"age": 6.003, "v": 78.2}, {"age": 6.369, "v": 77.6}, {"age": 6.512, "v": 93.6}, {"age": 6.675, "v": 95.1}, {"age": 6.806, "v": 97.4},
          {"age": 6.900, "v": 87.2}, {"age": 7.010, "v": 115.0}, {"age": 7.112, "v": 118.2}, {"age": 7.153, "v": 167.1}, {"age": 7.205, "v": 87.2},
          {"age": 7.288, "v": 88.1}, {"age": 7.377, "v": 110.2}, {"age": 7.450, "v": 92.9}, {"age": 7.512, "v": 101.6}, {"age": 7.552, "v": 120.7},
          {"age": 7.585, "v": 143.1}, {"age": 7.634, "v": 86.2}, {"age": 7.744, "v": 96.1}, {"age": 7.765, "v": 80.2}, {"age": 7.817, "v": 71.1},
          {"age": 8.001, "v": 81.4}, {"age": 8.204, "v": 73.7}, {"age": 8.258, "v": 69.6}, {"age": 8.306, "v": 68.9}, {"age": 8.653, "v": 75.9},
          {"age": 9.020, "v": 77.6}, {"age": 9.285, "v": 82.7}, {"age": 9.366, "v": 80.2}, {"age": 9.501, "v": 93.6}, {"age": 9.559, "v": 87.2},
          {"age": 9.591, "v": 93.6}, {"age": 9.620, "v": 106.4}, {"age": 9.693, "v": 120.1}, {"age": 9.726, "v": 112.8}, {"age": 9.774, "v": 140.9},
          {"age": 9.807, "v": 126.2}, {"age": 9.836, "v": 152.7}, {"age": 9.869, "v": 156.0}, {"age": 9.905, "v": 101.6}, {"age": 9.930, "v": 132.0},
          {"age": 9.949, "v": 109.5}, {"age": 9.979, "v": 163.0}, {"age": 9.999, "v": 106.4}, {"age": 10.019, "v": 156.0}
        ]}, "mark": {"type": "line", "color": "#6c6cf2", "strokeWidth": 1.7}, "encoding": {}},
        {"data": {"values": [{"age": 6.02, "v": 172.6, "label": "i"}]},
          "mark": {"type": "text", "align": "left", "baseline": "middle", "fontSize": 15, "color": "#000"},
          "encoding": {"text": {"field": "label"}}}
      ]
    },
    {
      "encoding": {"y": {"field": "v", "type": "quantitative", "scale": {"domain": [148, 156], "range": [962, 830], "nice": false, "zero": false},
        "axis": {"orient": "right", "offset": 10, "values": [148, 149, 150, 151, 152, 153, 154, 155, 156], "labelExpr": "datum.value % 2 === 0 ? datum.label : ''", "tickSize": {"condition": {"test": "datum.value % 2 === 0", "value": 5}, "value": 3}, "title": "Lake level [masl], Accesa", "titleAngle": 270, "titleBaseline": "middle", "titleX": 39, "labelColor": "#1414ff", "titleColor": "#1414ff", "domainColor": "#1414ff", "tickColor": "#1414ff"}}},
      "layer": [
        {"data": {"values": [
          {"age": 6.023, "v": 150.99}, {"age": 6.194, "v": 154.48}, {"age": 6.321, "v": 150.59}, {"age": 6.431, "v": 150.62}, {"age": 6.512, "v": 154.73},
          {"age": 6.561, "v": 154.18}, {"age": 6.586, "v": 152.26}, {"age": 6.675, "v": 152.26}, {"age": 6.737, "v": 155.09}, {"age": 6.757, "v": 152.26},
          {"age": 6.887, "v": 152.26}, {"age": 6.933, "v": 155.03}, {"age": 6.953, "v": 152.26}, {"age": 7.104, "v": 152.30}, {"age": 7.356, "v": 154.99},
          {"age": 7.552, "v": 152.36}, {"age": 7.655, "v": 154.53}, {"age": 7.744, "v": 149.53}, {"age": 7.756, "v": 149.38}, {"age": 8.152, "v": 149.38},
          {"age": 8.253, "v": 153.17}, {"age": 8.437, "v": 149.64}, {"age": 8.519, "v": 149.80}, {"age": 9.142, "v": 149.90}, {"age": 9.419, "v": 154.99},
          {"age": 9.570, "v": 155.70}, {"age": 9.623, "v": 152.32}, {"age": 9.705, "v": 154.28}, {"age": 9.746, "v": 152.67}, {"age": 9.897, "v": 154.68},
          {"age": 9.946, "v": 152.87}, {"age": 10.019, "v": 152.61}, {"age": 10.100, "v": 154.32}, {"age": 10.374, "v": 154.99}, {"age": 10.753, "v": 152.36},
          {"age": 10.813, "v": 152.16}, {"age": 10.855, "v": 154.04}, {"age": 10.896, "v": 153.27}, {"age": 10.957, "v": 153.41}, {"age": 10.989, "v": 154.12},
          {"age": 11.051, "v": 153.47}, {"age": 11.140, "v": 155.74}
        ]}, "mark": {"type": "line", "color": "#1414ff", "strokeWidth": 1.7}, "encoding": {}},
        {"data": {"values": [{"age": 6.02, "v": 154.3, "label": "j"}]},
          "mark": {"type": "text", "align": "left", "baseline": "middle", "fontSize": 15, "color": "#000"},
          "encoding": {"text": {"field": "label"}}},
        {"data": {"values": [{"age": 11.64, "v": 153.33, "v2": 156.24}]}, "mark": {"type": "rule", "color": "#2d5d94", "strokeWidth": 2}, "encoding": {"y2": {"field": "v2"}}},
        {"data": {"values": [{"age": 11.64, "v": 153.33, "v2": 150.36}]}, "mark": {"type": "rule", "color": "#c00000", "strokeWidth": 2}, "encoding": {"y2": {"field": "v2"}}},
        {"data": {"values": [{"age": 11.64, "v": 156.24}]}, "mark": {"type": "point", "shape": "M-1,1.3L0,0L1,1.3", "size": 300, "filled": false, "color": "#2d5d94", "strokeWidth": 2, "opacity": 1}, "encoding": {}},
        {"data": {"values": [{"age": 11.64, "v": 150.36}]}, "mark": {"type": "point", "shape": "M-1,-1.3L0,0L1,-1.3", "size": 300, "filled": false, "color": "#c00000", "strokeWidth": 2, "opacity": 1}, "encoding": {}},
        {"data": {"values": [{"age": 11.85, "v": 155.03, "label": "wet"}, {"age": 11.85, "v": 152.0, "label": "dry"}]},
          "mark": {"type": "text", "align": "left", "baseline": "middle", "fontSize": 16, "color": "#000"},
          "encoding": {"text": {"field": "label"}}}
      ]
    },
    {
      "encoding": {"y": {"field": "v", "type": "quantitative", "scale": {"domain": [0, 80], "range": [1062.7, 916], "nice": false, "zero": false},
        "axis": {"orient": "left", "offset": 11, "values": [0, 10, 20, 30, 40, 50, 60, 70, 80], "labelExpr": "datum.value % 20 === 0 ? datum.label : ''", "tickSize": {"condition": {"test": "datum.value % 20 === 0", "value": 5}, "value": 3}, "title": ["Med. taxa pollen [%],", "Lake Accesa"]}}},
      "layer": [
        {"data": {"values": [
          {"age": 6.346, "v": 30.5}, {"age": 6.504, "v": 23.8}, {"age": 6.623, "v": 25.1}, {"age": 6.850, "v": 16.9}, {"age": 6.961, "v": 18.2},
          {"age": 7.139, "v": 11.8}, {"age": 7.199, "v": 26.0}, {"age": 7.365, "v": 13.3}, {"age": 7.424, "v": 16.4}, {"age": 7.492, "v": 13.3},
          {"age": 7.583, "v": 13.5}, {"age": 7.607, "v": 29.7}, {"age": 7.702, "v": 25.1}, {"age": 7.761, "v": 41.4}, {"age": 7.980, "v": 60.9},
          {"age": 8.190, "v": 45.5}, {"age": 8.246, "v": 50.0}, {"age": 8.285, "v": 48.4}, {"age": 8.634, "v": 44.7}, {"age": 8.951, "v": 36.9},
          {"age": 9.288, "v": 32.0}, {"age": 9.336, "v": 25.5}, {"age": 9.415, "v": 31.3}, {"age": 9.455, "v": 25.1}, {"age": 9.553, "v": 21.8},
          {"age": 9.577, "v": 10.2}, {"age": 9.823, "v": 6.2}, {"age": 9.930, "v": 7.5}, {"age": 9.973, "v": 4.7}, {"age": 10.160, "v": 0.3},
          {"age": 10.576, "v": 0.3}, {"age": 10.604, "v": 1.9}, {"age": 10.676, "v": 0.8}, {"age": 10.993, "v": 0.2}
        ]}, "mark": {"type": "area", "color": "#000", "opacity": 1, "line": {"color": "#000", "strokeWidth": 1}}, "encoding": {}},
        {"data": {"values": [{"age": 6.02, "v": 68.5, "label": "k"}]},
          "mark": {"type": "text", "align": "left", "baseline": "middle", "fontSize": 15, "color": "#000"},
          "encoding": {"text": {"field": "label"}}}
      ]
    },
    {
      "encoding": {"y": {"field": "v", "type": "quantitative", "scale": {"domain": [0, 100], "range": [1187, 1045], "nice": false, "zero": false},
        "axis": {"orient": "right", "offset": 10, "values": [0, 10, 20, 30, 40, 50, 60, 70, 80, 90, 100], "labelExpr": "datum.value % 20 === 0 ? datum.label : ''", "tickSize": {"condition": {"test": "datum.value % 20 === 0", "value": 5}, "value": 3}, "title": null}}},
      "layer": [
        {"data": {"values": [
          {"age": 5.918, "v": 33.1}, {"age": 5.938, "v": 27.3}, {"age": 6.057, "v": 30.8}, {"age": 6.354, "v": 27.3}, {"age": 6.493, "v": 35.0},
          {"age": 6.710, "v": 30.3}, {"age": 6.870, "v": 61.3}, {"age": 7.036, "v": 80.0}, {"age": 7.278, "v": 64.8}, {"age": 7.425, "v": 70.2},
          {"age": 7.575, "v": 69.5}, {"age": 7.833, "v": 56.5}, {"age": 8.020, "v": 63.6}, {"age": 8.139, "v": 63.2}, {"age": 8.218, "v": 51.4},
          {"age": 8.289, "v": 63.6}, {"age": 8.329, "v": 53.0}, {"age": 8.416, "v": 71.8}, {"age": 8.483, "v": 61.3}, {"age": 8.554, "v": 60.1},
          {"age": 8.593, "v": 62.5}, {"age": 8.673, "v": 64.8}, {"age": 8.773, "v": 54.7}, {"age": 8.863, "v": 58.5}, {"age": 8.951, "v": 55.4},
          {"age": 9.109, "v": 62.5}, {"age": 9.249, "v": 60.1}, {"age": 9.320, "v": 47.7}, {"age": 9.434, "v": 47.2}, {"age": 9.605, "v": 65.3},
          {"age": 9.685, "v": 60.8}, {"age": 9.804, "v": 93.0}, {"age": 9.962, "v": 93.0}, {"age": 10.168, "v": 93.0}
        ]}, "mark": {"type": "area", "color": "#676632", "opacity": 1}, "encoding": {}},
        {"data": {"values": [
          {"age": 5.918, "v": 27.3}, {"age": 6.057, "v": 30.8}, {"age": 6.354, "v": 27.3}, {"age": 6.493, "v": 35.0}, {"age": 6.710, "v": 30.3},
          {"age": 6.889, "v": 13.2}, {"age": 7.067, "v": 4.9}, {"age": 7.286, "v": 8.5}, {"age": 7.425, "v": 22.5}, {"age": 7.563, "v": 21.8},
          {"age": 7.833, "v": 29.6}, {"age": 8.139, "v": 29.6}, {"age": 8.237, "v": 17.4}, {"age": 8.305, "v": 28.4}, {"age": 8.408, "v": 19.0},
          {"age": 8.515, "v": 31.2}, {"age": 8.646, "v": 27.3}, {"age": 8.792, "v": 39.4}, {"age": 8.892, "v": 35.0}, {"age": 8.990, "v": 35.4},
          {"age": 9.122, "v": 32.6}, {"age": 9.268, "v": 33.6}, {"age": 9.367, "v": 51.4}, {"age": 9.447, "v": 46.0}, {"age": 9.625, "v": 31.9},
          {"age": 9.704, "v": 35.0}, {"age": 9.815, "v": 7.7}, {"age": 10.002, "v": 6.8}, {"age": 10.180, "v": 2.1}
        ]}, "mark": {"type": "area", "color": "#fcc995", "opacity": 1}, "encoding": {}},
        {"data": {"values": [{"age": 6.02, "v": 68.3, "label": "l"}]},
          "mark": {"type": "text", "align": "left", "baseline": "middle", "fontSize": 15, "color": "#000"},
          "encoding": {"text": {"field": "label"}}},
        {"data": {"values": [{"age": 10.497, "v": 7.3, "v2": 42.5}]}, "mark": {"type": "rule", "color": "#d00000", "strokeWidth": 2}, "encoding": {"y2": {"field": "v2"}}},
        {"data": {"values": [{"age": 10.497, "v": 42.5}]}, "mark": {"type": "point", "shape": "M-1,1.3L0,0L1,1.3", "size": 300, "filled": false, "color": "#d00000", "strokeWidth": 2, "opacity": 1}, "encoding": {}},
        {"data": {"values": [{"age": 10.668, "v": 24.9, "label": "dry"}]},
          "mark": {"type": "text", "align": "left", "baseline": "middle", "fontSize": 16, "color": "#000"},
          "encoding": {"text": {"field": "label"}}},
        {"data": {"values": [{"age": 15.405, "v": 2.8, "label": "Herbs"}]},
          "mark": {"type": "text", "align": "left", "baseline": "middle", "angle": 270, "fontSize": 13, "color": "#676632"},
          "encoding": {"text": {"field": "label"}}},
        {"data": {"values": [{"age": 15.405, "v": 39.4, "label": "Shrubs"}]},
          "mark": {"type": "text", "align": "left", "baseline": "middle", "angle": 270, "fontSize": 13, "color": "#f8bf88"},
          "encoding": {"text": {"field": "label"}}},
        {"data": {"values": [{"age": 15.405, "v": 31.0, "label": "+"}, {"age": 15.405, "v": 73.2, "label": "[%],"}]},
          "mark": {"type": "text", "align": "left", "baseline": "middle", "angle": 270, "fontSize": 13, "color": "#000"},
          "encoding": {"text": {"field": "label"}}},
        {"data": {"values": [{"age": 15.547, "v": 47, "label": "Gorgo Basso, Sicily"}]},
          "mark": {"type": "text", "align": "center", "baseline": "middle", "angle": 270, "fontSize": 13, "color": "#000"},
          "encoding": {"text": {"field": "label"}}}
      ]
    },
    {
      "encoding": {"y": {"field": "v", "type": "quantitative", "scale": {"domain": [0, 80], "range": [1275, 1167], "nice": false, "zero": false},
        "axis": {"orient": "left", "offset": 11, "values": [0, 10, 20, 30, 40, 50, 60, 70, 80], "labelExpr": "datum.value % 20 === 0 ? datum.label : ''", "tickSize": {"condition": {"test": "datum.value % 20 === 0", "value": 5}, "value": 3}, "title": null}}},
      "layer": [
        {"data": {"values": [
          {"age": 5.989, "v": 17.8}, {"age": 6.108, "v": 21.0}, {"age": 6.124, "v": 29.7}, {"age": 6.274, "v": 34.7}, {"age": 6.393, "v": 32.2},
          {"age": 6.591, "v": 38.4}, {"age": 6.731, "v": 29.7}, {"age": 6.889, "v": 35.4}, {"age": 6.988, "v": 33.4}, {"age": 7.016, "v": 37.9},
          {"age": 7.040, "v": 28.5}, {"age": 7.107, "v": 33.4}, {"age": 7.186, "v": 35.9}, {"age": 7.214, "v": 32.2}, {"age": 7.325, "v": 39.6},
          {"age": 7.405, "v": 32.2}, {"age": 7.575, "v": 34.2}, {"age": 7.603, "v": 23.6}, {"age": 7.722, "v": 28.5}, {"age": 7.841, "v": 27.3},
          {"age": 7.861, "v": 33.4}, {"age": 7.909, "v": 27.3}, {"age": 7.980, "v": 32.2}, {"age": 8.020, "v": 29.7}, {"age": 8.079, "v": 32.2},
          {"age": 8.118, "v": 44.6}, {"age": 8.158, "v": 43.3}, {"age": 8.197, "v": 70.6}, {"age": 8.237, "v": 70.6}, {"age": 8.257, "v": 76.7},
          {"age": 8.289, "v": 66.9}, {"age": 8.316, "v": 73.0}, {"age": 8.356, "v": 73.0}, {"age": 8.376, "v": 39.6}, {"age": 8.408, "v": 41.6},
          {"age": 8.448, "v": 38.4}, {"age": 8.503, "v": 47.0}, {"age": 8.586, "v": 36.4}, {"age": 8.673, "v": 73.6}, {"age": 8.745, "v": 52.0},
          {"age": 8.781, "v": 70.1}, {"age": 8.860, "v": 50.7}, {"age": 8.963, "v": 64.4}, {"age": 9.050, "v": 48.8}, {"age": 9.109, "v": 48.3},
          {"age": 9.149, "v": 66.9}, {"age": 9.228, "v": 39.6}, {"age": 9.328, "v": 24.0}, {"age": 9.367, "v": 34.0}, {"age": 9.426, "v": 28.5},
          {"age": 9.466, "v": 33.4}, {"age": 9.558, "v": 35.9}, {"age": 9.645, "v": 57.7}, {"age": 9.732, "v": 42.1}
        ]}, "mark": {"type": "area", "color": "#006834", "opacity": 1}, "encoding": {}},
        {"data": {"values": [
          {"age": 6.108, "v": 30.5}, {"age": 6.195, "v": 29.0}, {"age": 6.393, "v": 33.4}, {"age": 6.591, "v": 38.9}, {"age": 6.731, "v": 30.5},
          {"age": 6.889, "v": 35.1}, {"age": 6.988, "v": 29.7}, {"age": 7.087, "v": 32.7}, {"age": 7.286, "v": 32.2}, {"age": 7.385, "v": 30.5},
          {"age": 7.483, "v": 28.5}, {"age": 7.575, "v": 23.0}, {"age": 7.722, "v": 28.5}, {"age": 7.880, "v": 27.3}, {"age": 7.980, "v": 32.2},
          {"age": 8.099, "v": 31.0}, {"age": 8.158, "v": 23.6}, {"age": 8.218, "v": 9.9}, {"age": 8.277, "v": 7.4}, {"age": 8.316, "v": 11.1},
          {"age": 8.376, "v": 7.4}, {"age": 8.416, "v": 18.6}, {"age": 8.475, "v": 16.1}, {"age": 8.554, "v": 19.8}, {"age": 8.614, "v": 23.6},
          {"age": 8.654, "v": 17.3}, {"age": 8.701, "v": 11.1}, {"age": 8.741, "v": 19.8}, {"age": 8.792, "v": 13.6}, {"age": 8.820, "v": 8.7},
          {"age": 8.892, "v": 17.3}, {"age": 8.971, "v": 16.1}, {"age": 9.050, "v": 19.8}, {"age": 9.109, "v": 23.6}, {"age": 9.189, "v": 11.1},
          {"age": 9.268, "v": 19.1}, {"age": 9.328, "v": 23.6}, {"age": 9.407, "v": 21.5}, {"age": 9.466, "v": 23.6}, {"age": 9.566, "v": 19.8},
          {"age": 9.613, "v": 28.0}, {"age": 9.645, "v": 13.6}, {"age": 9.685, "v": 7.4}, {"age": 9.743, "v": 13.6}, {"age": 9.783, "v": 21.0}
        ]}, "mark": {"type": "area", "color": "#9acd32", "opacity": 1}, "encoding": {}},
        {"data": {"values": [{"age": 6.02, "v": 48.3, "label": "m"}]},
          "mark": {"type": "text", "align": "left", "baseline": "middle", "fontSize": 15, "color": "#000"},
          "encoding": {"text": {"field": "label"}}},
        {"data": {"values": [{"age": 10.089, "v": 6.2, "v2": 42.1}]}, "mark": {"type": "rule", "color": "#2d5a1e", "strokeWidth": 2}, "encoding": {"y2": {"field": "v2"}}},
        {"data": {"values": [{"age": 10.089, "v": 42.1}]}, "mark": {"type": "point", "shape": "M-1,1.3L0,0L1,1.3", "size": 300, "filled": false, "color": "#2d5a1e", "strokeWidth": 2, "opacity": 1}, "encoding": {}},
        {"data": {"values": [{"age": 10.19, "v": 22.3, "label": "seasonality"}]},
          "mark": {"type": "text", "align": "left", "baseline": "middle", "fontSize": 16, "color": "#000"},
          "encoding": {"text": {"field": "label"}}},
        {"data": {"values": [{"age": 5.323, "v": 37.1, "label": "Pinus pollen +"}]},
          "mark": {"type": "text", "align": "center", "baseline": "middle", "angle": 270, "fontSize": 13, "color": "#006834"},
          "encoding": {"text": {"field": "label"}}},
        {"data": {"values": [{"age": 5.462, "v": -12.6, "label": "Deciduous Forest"}]},
          "mark": {"type": "text", "align": "left", "baseline": "middle", "angle": 270, "fontSize": 13, "color": "#9acd32"},
          "encoding": {"text": {"field": "label"}}},
        {"data": {"values": [{"age": 5.462, "v": 77, "label": "[%],"}]},
          "mark": {"type": "text", "align": "left", "baseline": "middle", "angle": 270, "fontSize": 13, "color": "#000"},
          "encoding": {"text": {"field": "label"}}},
        {"data": {"values": [{"age": 5.589, "v": 40.1, "label": "S. Pyrenees"}]},
          "mark": {"type": "text", "align": "center", "baseline": "middle", "angle": 270, "fontSize": 13, "color": "#000"},
          "encoding": {"text": {"field": "label"}}}
      ]
    },
    {
      "encoding": {"y": {"field": "v", "type": "quantitative", "scale": {"domain": [0, 30], "range": [1360.7, 1250], "nice": false, "zero": false},
        "axis": {"orient": "right", "offset": 10, "values": [0, 5, 10, 15, 20, 25, 30], "labelExpr": "datum.value % 10 === 0 ? datum.label : ''", "tickSize": {"condition": {"test": "datum.value % 10 === 0", "value": 5}, "value": 3}, "title": ["Xerophytes [%],", "Lake Siles"], "titleAngle": 270, "titleBaseline": "middle", "titleX": 31}}},
      "layer": [
        {"data": {"values": [
          {"age": 5.862, "v": 1.7}, {"age": 6.652, "v": 1.6}, {"age": 6.922, "v": 0.7}, {"age": 7.098, "v": 2.0}, {"age": 7.416, "v": 6.8},
          {"age": 7.719, "v": 7.2}, {"age": 7.868, "v": 8.8}, {"age": 7.989, "v": 13.4}, {"age": 8.205, "v": 16.0}, {"age": 8.428, "v": 21.6},
          {"age": 8.645, "v": 11.1}, {"age": 8.847, "v": 22.0}, {"age": 9.036, "v": 13.9}, {"age": 9.218, "v": 19.0}, {"age": 9.441, "v": 11.1},
          {"age": 9.623, "v": 15.5}, {"age": 10.164, "v": 4.9}, {"age": 11.602, "v": 8.2}, {"age": 12.109, "v": 21.4}, {"age": 12.717, "v": 20.5},
          {"age": 13.291, "v": 26.9}, {"age": 13.987, "v": 27.5}
        ]}, "mark": {"type": "area", "color": "#000", "opacity": 1}, "encoding": {}},
        {"data": {"values": [{"age": 6.02, "v": 17.1, "label": "n"}]},
          "mark": {"type": "text", "align": "left", "baseline": "middle", "fontSize": 15, "color": "#000"},
          "encoding": {"text": {"field": "label"}}}
      ]
    }
  ]
}
